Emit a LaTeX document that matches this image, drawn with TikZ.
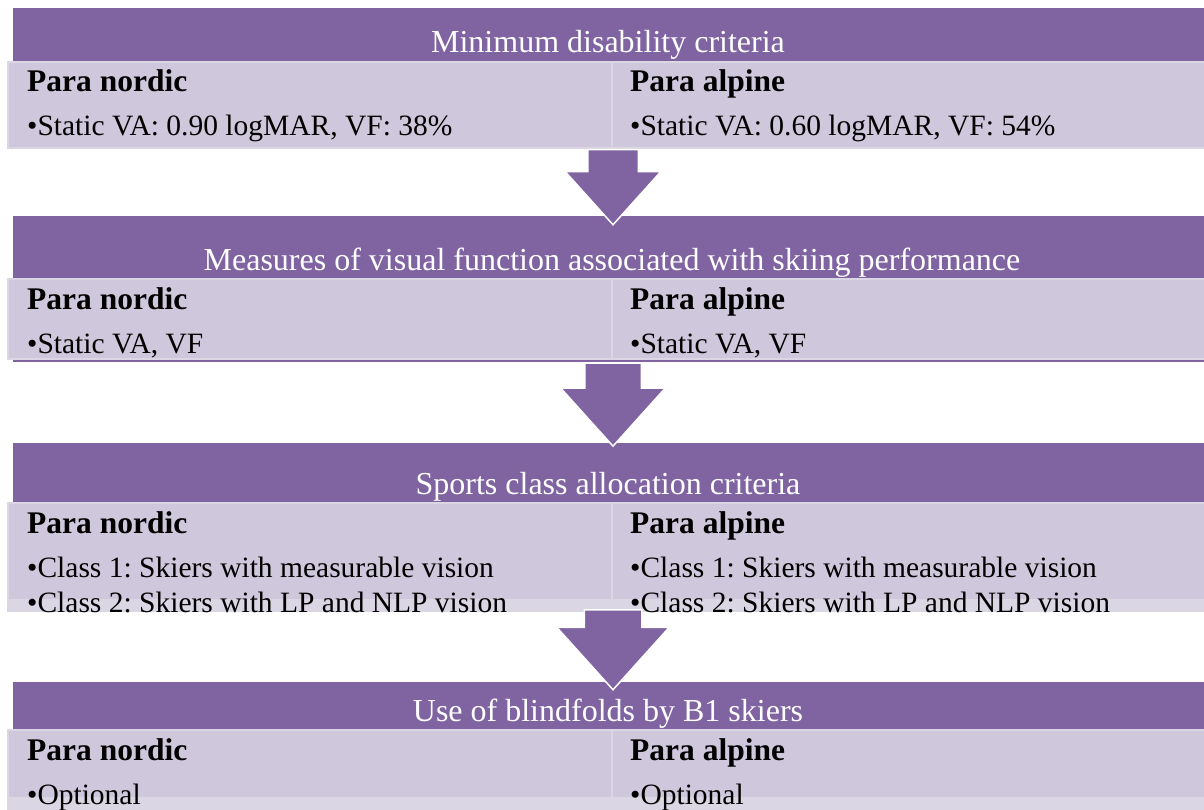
\documentclass[tikz,border=0pt]{standalone}
\usepackage{fontspec}
\setmainfont{Liberation Serif}
\usetikzlibrary{positioning, shapes.arrows}

\definecolor{accent}{RGB}{128,100,162}
\definecolor{panelfill}{RGB}{207,199,220}
\definecolor{panelrim}{RGB}{219,214,228}

\tikzset{
  band/.style={fill=accent, anchor=north west, inner sep=0pt, minimum width=1191pt},
  panel/.style={fill=panelfill, draw=panelrim, line width=2pt, anchor=north west, inner sep=0pt},
  spill/.style={fill=panelrim, anchor=north west, inner sep=0pt, minimum width=1197pt, minimum height=13pt},
  heading/.style={text=white, anchor=base, inner sep=0pt, font=\fontsize{32}{38}\selectfont\frenchspacing},
  sport/.style={anchor=base west, inner sep=0pt, font=\fontsize{31.5}{38}\selectfont\bfseries},
  item/.style={anchor=base west, inner sep=0pt, font=\fontsize{29.5}{35}\selectfont\frenchspacing},
  stagearrow/.style={single arrow, fill=accent, draw=white, line width=1.5pt, rotate=-90,
    anchor=tail, inner xsep=0pt, single arrow tip angle=84}
}

\begin{document}
\begin{tikzpicture}[x=1pt, y=-1pt]
\useasboundingbox (0,0) rectangle (1204,810);
\clip (0,0) rectangle (1204,810);

% purple title bands
\node[band, minimum height=53pt] (b1) at (13,8) {};
\node[band, minimum height=146pt] (b2) at (13,216) {};
\node[band, minimum height=59pt] (b3) at (13,443) {};
\node[band, minimum height=47pt] (b4) at (13,682) {};

% light panels, nordic on the left and alpine on the right
\node[panel, minimum width=604pt, minimum height=86pt] (p1l) at (7,61) {};
\node[panel, minimum width=600pt, minimum height=86pt] (p1r) at (611,61) {};
\node[panel, minimum width=604pt, minimum height=80pt] (p2l) at (7,278) {};
\node[panel, minimum width=600pt, minimum height=80pt] (p2r) at (611,278) {};
\node[panel, minimum width=604pt, minimum height=105pt] (p3l) at (7,502) {};
\node[panel, minimum width=600pt, minimum height=105pt] (p3r) at (611,502) {};
\node[panel, minimum width=604pt, minimum height=68pt] (p4l) at (7,729) {};
\node[panel, minimum width=600pt, minimum height=68pt] (p4r) at (611,729) {};

% text that runs past the panels
\node[spill] (s3) at (7,599) {};
\node[spill] (s4) at (7,797) {};

% band titles
\node[heading] (h1) at (608,53) {Minimum disability criteria};
\node[heading] (h2) at (612,270) {Measures of visual function associated with skiing performance};
\node[heading] (h3) at (608,494) {Sports class allocation criteria};
\node[heading] (h4) at (608,721) {Use of blindfolds by B1 skiers};

% stage 1
\node[sport] (n1) at ([xshift=20pt, yshift=-31pt]p1l.north west) {Para nordic};
\node[item] (n1a) at ([yshift=-44pt]n1.base west) {\textbullet Static VA: 0.90 logMAR, VF: 38\%};
\node[sport] (a1) at ([xshift=19pt, yshift=-31pt]p1r.north west) {Para alpine};
\node[item] (a1a) at ([yshift=-44pt]a1.base west) {\textbullet Static VA: 0.60 logMAR, VF: 54\%};

% stage 2
\node[sport] (n2) at ([xshift=20pt, yshift=-31pt]p2l.north west) {Para nordic};
\node[item] (n2a) at ([yshift=-44pt]n2.base west) {\textbullet Static VA, VF};
\node[sport] (a2) at ([xshift=19pt, yshift=-31pt]p2r.north west) {Para alpine};
\node[item] (a2a) at ([yshift=-44pt]a2.base west) {\textbullet Static VA, VF};

% stage 3
\node[sport] (n3) at ([xshift=20pt, yshift=-31pt]p3l.north west) {Para nordic};
\node[item] (n3a) at ([yshift=-44pt]n3.base west) {\textbullet Class 1: Skiers with measurable vision};
\node[item] (n3b) at ([yshift=-35pt]n3a.base west) {\textbullet Class 2: Skiers with LP and NLP vision};
\node[sport] (a3) at ([xshift=19pt, yshift=-31pt]p3r.north west) {Para alpine};
\node[item] (a3a) at ([yshift=-44pt]a3.base west) {\textbullet Class 1: Skiers with measurable vision};
\node[item] (a3b) at ([yshift=-35pt]a3a.base west) {\textbullet Class 2: Skiers with LP and NLP vision};

% stage 4
\node[sport] (n4) at ([xshift=20pt, yshift=-31pt]p4l.north west) {Para nordic};
\node[item] (n4a) at ([yshift=-44pt]n4.base west) {\textbullet Optional};
\node[sport] (a4) at ([xshift=19pt, yshift=-31pt]p4r.north west) {Para alpine};
\node[item] (a4a) at ([yshift=-44pt]a4.base west) {\textbullet Optional};

% block arrows between stages
\node[stagearrow, minimum height=75pt, inner ysep=24.5pt, single arrow head extend=22.5pt] (arr1) at (p1l.south east) {};
\node[stagearrow, minimum height=83pt, inner ysep=27.5pt, single arrow head extend=24pt] (arr2) at (b2.south -| p2l.east) {};
\node[stagearrow, minimum height=80pt, inner ysep=28pt, single arrow head extend=27.5pt] (arr3) at (p3l.south east) {};

\end{tikzpicture}
\end{document}
